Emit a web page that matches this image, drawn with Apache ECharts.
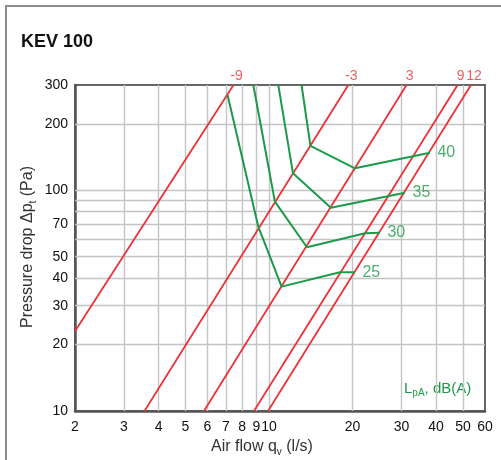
<!DOCTYPE html>
<html><head><meta charset="utf-8">
<script src="https://cdn.jsdelivr.net/npm/echarts@6/dist/echarts.min.js"></script>
<style>html,body{margin:0;padding:0;background:#fff}#c{width:501px;height:460px}</style>
</head><body><div id="c"></div>
<script>
// ---- data ----
const xTickLabels = [2,3,4,5,6,7,8,9,10,20,30,40,50,60];
const yTickLabels = [10,20,30,40,50,70,100,200,300];
const xGridValues = [3,4,5,6,7,8,9,10,20,30,40,50];
const yGridValues = [20,30,40,50,60,70,80,90,100,200];

const redNames = ['-9','-3','3','9','12'];
const redStart = [[2,23],[3.56,10],[5.83,10],[8.83,10],[9.92,10]];
const redEnd   = [[7.45,300],[19.3,300],[31.3,300],[47.8,300],[53.4,300]];

const greenNames = ['25','30','35','40'];
const green25 = [[7.09,270],[9.15,68.4],[11.1,36.6],[18.0,42.5],[20.4,42.5]];
const green30 = [[8.78,300],[10.5,88.8],[13.7,55.2],[22.2,63.9],[25.1,64.3]];
const green35 = [[10.8,300],[12.2,119.4],[16.7,83.4],[30.9,97.5]];
const green40 = [[13.1,300],[14.1,159],[20.4,125.8],[38.0,148]];
const greenLines = [green25, green30, green35, green40];

// ---- style ----
const RED = '#ec3237';
const GREEN = '#1c9a4a';
const GRIDC = '#c4c4c4';
const FONT = 'Liberation Sans, Arial, sans-serif';

const chart = echarts.init(document.getElementById('c'));

const series = [];
redNames.forEach((n, i) => {
  const s = {
    type: 'line', name: 'r' + n, data: [redStart[i], redEnd[i]],
    symbol: 'none', silent: true, animation: false, z: 3,
    lineStyle: { color: RED, width: 1.8 }
  };
  if (i === 0) {
    s.markLine = {
      silent: true, z: 1, symbol: ['none', 'none'], animation: false,
      label: { show: false },
      lineStyle: { color: GRIDC, width: 1.4, type: 'solid' },
      emphasis: { disabled: true },
      data: xGridValues.map(v => ({ xAxis: v })).concat(yGridValues.map(v => ({ yAxis: v })))
    };
  }
  series.push(s);
});
series.push({
  type: 'scatter', clip: false, silent: true, animation: false, z: 5,
  symbolSize: 1, itemStyle: { color: 'rgba(0,0,0,0)' },
  label: { show: true, position: 'top', distance: 1, offset: [3, 0], color: RED, fontSize: 14, fontFamily: FONT },
  data: redEnd.map((p, i) => ({ value: p, label: { formatter: redNames[i] } }))
});
greenLines.forEach((d, i) => {
  series.push({
    type: 'line', name: 'g' + greenNames[i], data: d,
    symbol: 'none', silent: true, animation: false, z: 4,
    lineStyle: { color: GREEN, width: 2 }
  });
});
series.push({
  type: 'scatter', clip: false, silent: true, animation: false, z: 5,
  symbolSize: 1, itemStyle: { color: 'rgba(0,0,0,0)' },
  label: { show: true, position: 'right', distance: 7, color: GREEN, fontSize: 16, fontFamily: FONT },
  data: greenLines.map((d, i) => ({ value: d[d.length - 1], label: { formatter: greenNames[i] } }))
});

const subRich = {
  a: { fontSize: 16, verticalAlign: 'top', fontFamily: FONT },
  b: { fontSize: 10, verticalAlign: 'top', padding: [8, 0, 0, 0], fontFamily: FONT }
};

chart.setOption({
  animation: false,
  textStyle: { fontFamily: FONT },
  title: {
    text: 'KEV 100', left: 21, top: 33, padding: 0,
    textStyle: { fontSize: 18, fontWeight: 'bold', color: '#111', fontFamily: FONT }
  },
  grid: {
    left: 75, top: 85, width: 410, height: 326, outerBoundsMode: 'none',
    show: true, borderColor: '#666', borderWidth: 2, backgroundColor: 'transparent'
  },
  xAxis: {
    type: 'log', logBase: 10, min: 2, max: 60,
    axisLine: { show: true, lineStyle: { color: '#555', width: 2.5 } },
    axisTick: { show: false },
    splitLine: { show: false },
    minorSplitLine: { show: false },
    axisLabel: { customValues: xTickLabels, margin: 9, color: '#111', fontSize: 14, fontFamily: FONT, formatter: v => String(Math.round(v)) }
  },
  yAxis: {
    type: 'log', logBase: 10, min: 10, max: 300,
    axisLine: { show: true, lineStyle: { color: '#555', width: 2.5 } },
    axisTick: { show: false },
    splitLine: { show: false },
    minorSplitLine: { show: false },
    axisLabel: { customValues: yTickLabels, margin: 7, color: '#111', fontSize: 14, fontFamily: FONT, formatter: v => String(Math.round(v)) }
  },
  graphic: [
    { type: 'rect', silent: true, z: -10, shape: { x: 6, y: 6, width: 620, height: 620 },
      style: { fill: 'none', stroke: '#8c8c8c', lineWidth: 2 } },
    { type: 'text', silent: true, x: 404, y: 390,
      style: { text: '{a|L}{b|pA}{a|, dB(A)}', fill: GREEN, verticalAlign: 'middle',
        rich: { a: { fontSize: 15, verticalAlign: 'top', fontFamily: FONT }, b: { fontSize: 10, verticalAlign: 'top', padding: [7, 0, 0, 0], fontFamily: FONT } } } },
    { type: 'text', silent: true, x: 262, y: 448,
      style: { text: '{a|Air flow q}{b|v}{a| (l/s)}', fill: '#333', align: 'center', verticalAlign: 'middle', rich: subRich } },
    { type: 'text', silent: true, x: 29, y: 247, rotation: Math.PI / 2,
      style: { text: '{a|Pressure drop Δp}{b|t}{a| (Pa)}', fill: '#333', align: 'center', verticalAlign: 'middle', rich: subRich } }
  ],
  series: series
});
</script>
</body></html>
